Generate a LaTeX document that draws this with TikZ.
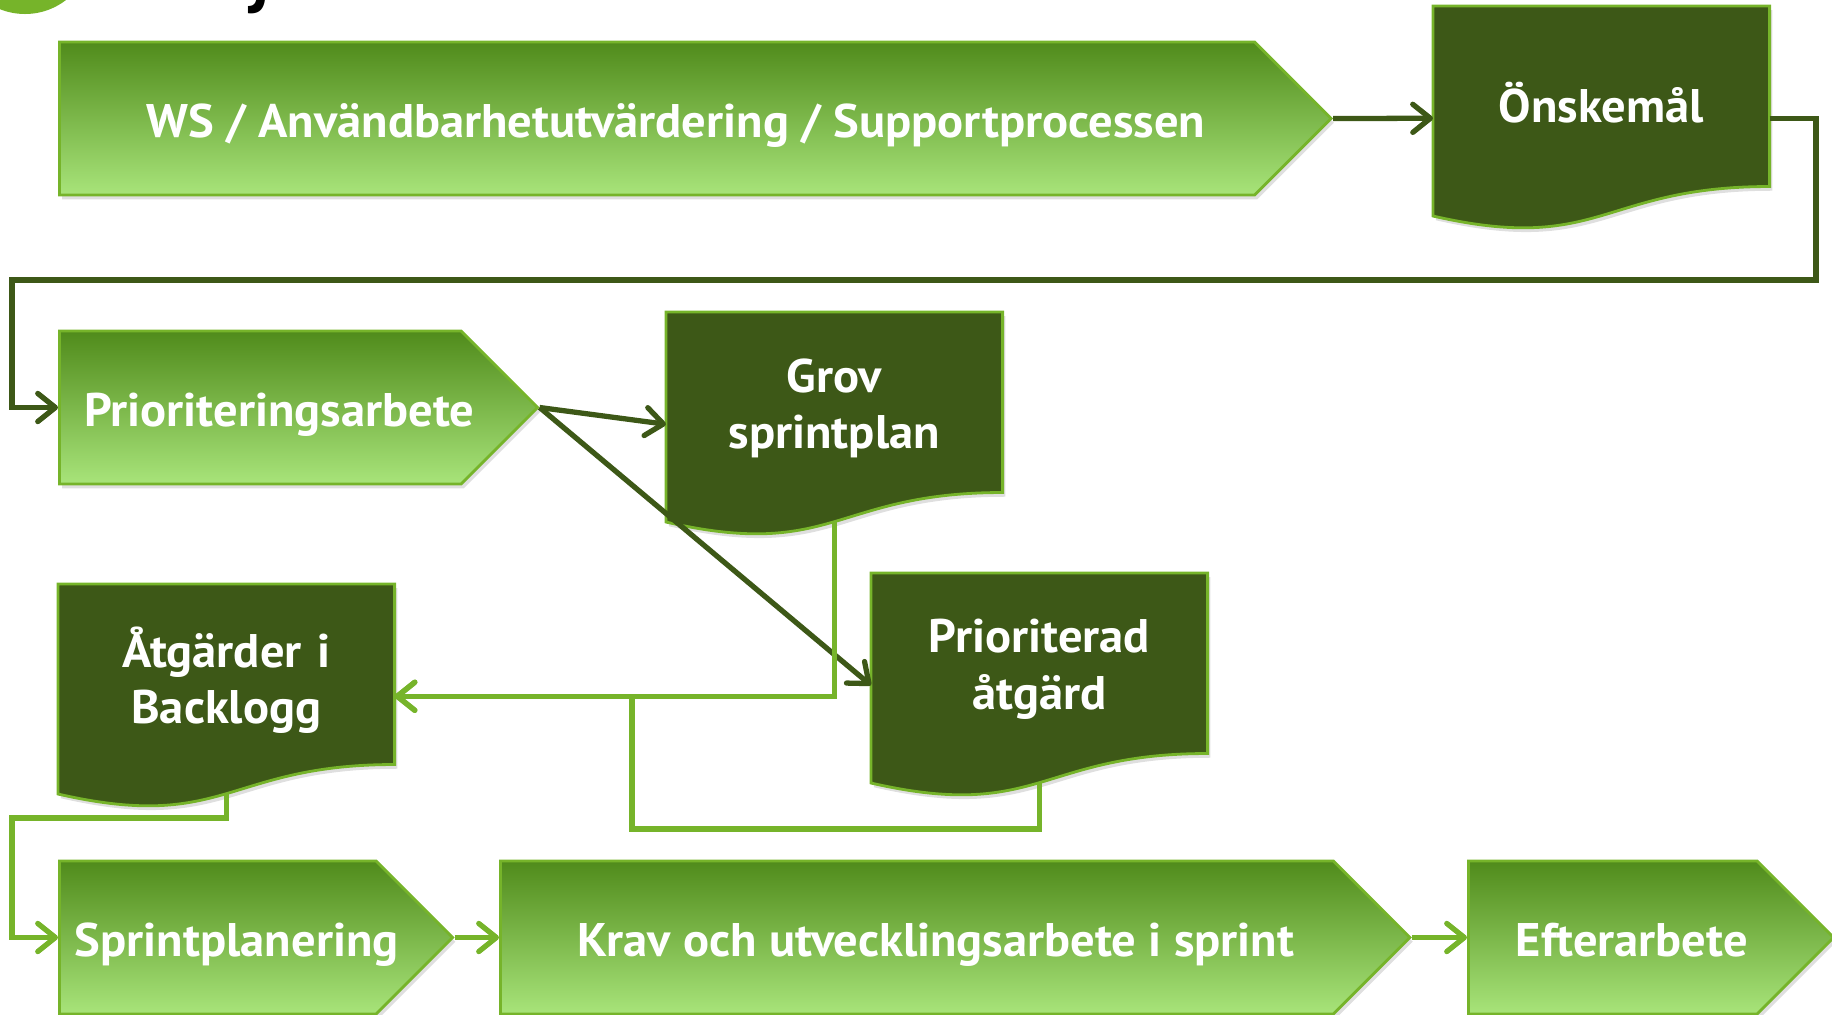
\documentclass[tikz,border=0pt]{standalone}
\usepackage{fontspec}
\setmainfont{PT Sans}
\newfontfamily\boxfont{PT Sans}[FakeStretch=1.03]
\usetikzlibrary{shapes.symbols,arrows.meta,shadows,backgrounds,calc}

\definecolor{leaf}{RGB}{118,180,42}
\definecolor{moss}{RGB}{61,88,23}
\definecolor{stagetop}{RGB}{80,139,27}
\definecolor{stagebot}{RGB}{168,228,122}

\begin{document}
\begin{tikzpicture}[x=0.01cm, y=0.01cm,
    stage/.style={signal, signal to=east, signal pointer angle=90, draw=leaf, line width=0.8pt,
        top color=stagetop, bottom color=stagebot, minimum height=1.53cm, inner sep=0pt,
        text height=0.37cm, text depth=0pt,
        text=white, font=\boxfont\bfseries\fontsize{13.4}{16}\selectfont,
        execute at begin node={\hspace*{0.38cm}\hbox to 0pt\bgroup\hss},
        execute at end node={\hss\egroup},
        drop shadow={opacity=0.25, shadow xshift=0.8pt, shadow yshift=-1.2pt}},
    docbox/.style={rectangle, anchor=north west, minimum width=3.35cm, minimum height=1.91cm,
        text width=3.2cm, align=center, inner sep=0pt,
        text=white, font=\boxfont\bfseries\fontsize{13.4}{16}\selectfont},
    docfill/.style={fill=moss, draw=leaf, line width=0.8pt,
        drop shadow={opacity=0.25, shadow xshift=0.8pt, shadow yshift=-1.2pt}},
    darr/.style={draw=moss, line width=1.5pt, -{Straight Barb[length=5pt,width=8pt,round]}},
    larr/.style={darr, draw=leaf}
]
\useasboundingbox (0,0) rectangle (1832,-1014);

% Rubrik (utanfoer bilden)
\fill[leaf] (25,53) circle (67);
\node[anchor=base, font=\fontsize{30}{32}\selectfont] (title) at (262,9) {j};

% Oevre raden
\node[stage, minimum width=12.71cm, anchor=west] (ws) at (58,-118.5) {WS / Användbarhetutvärdering / Supportprocessen};
\node[docbox] (onsk) at (1433,-6) {Önskemål};

% Prioritering
\node[stage, minimum width=4.78cm, anchor=west] (prior) at (58,-407.5) {Prioriteringsarbete};
\node[docbox] (grov) at (666,-312) {Grov\\sprintplan};
\node[docbox] (prio) at (871,-573) {Prioriterad\\åtgärd};
\node[docbox] (backlog) at (58,-584) {Åtgärder i\\Backlogg};

% Sprint
\node[stage, minimum width=3.93cm, anchor=west] (sprint) at (58,-937.5) {Sprintplanering};
\node[stage, minimum width=9.09cm, anchor=west] (krav) at (499,-937.5) {Krav och utvecklingsarbete i sprint};
\node[stage, minimum width=3.65cm, anchor=west] (efter) at (1467,-937.5) {Efterarbete};

% Dokumentformer
\begin{scope}[on background layer]
\foreach \d in {onsk,grov,prio,backlog}
  \path[docfill] (\d.north west) -- (\d.north east) -- ([yshift=0.12cm]\d.south east)
    .. controls ([yshift=0.12cm]\d.south) and ($(\d.south)+(0,-56)$) .. ($(\d.south west)+(0,-17.5)$) -- cycle;
\end{scope}

% Hjaelppunkter
\coordinate (loopR) at (1816,-280);
\coordinate (loopL) at (12,-280);
\coordinate (merge) at (632,-829);
\coordinate (bend) at (12,-818);

% Pilar
\draw[darr] (ws.east) -- ([yshift=-0.16cm]onsk.west);
\draw[darr] ([yshift=-0.16cm]onsk.east) -| (loopR) -- (loopL) |- (prior.west);
\draw[darr] (prior.east) -- ([yshift=-0.16cm]grov.west);
\draw[darr] (prior.east) -- ([yshift=-0.16cm]prio.west);
\draw[larr] ([yshift=-0.17cm]grov.south) |- ([yshift=-0.16cm]backlog.east);
\draw[larr] ([yshift=-0.17cm]prio.south) |- (merge) |- ([yshift=-0.16cm]backlog.east);
\draw[larr] ([yshift=-0.17cm]backlog.south) |- (bend) |- (sprint.west);
\draw[larr] (sprint.east) -- (krav.west);
\draw[larr] (krav.east) -- (efter.west);

\end{tikzpicture}
\end{document}
